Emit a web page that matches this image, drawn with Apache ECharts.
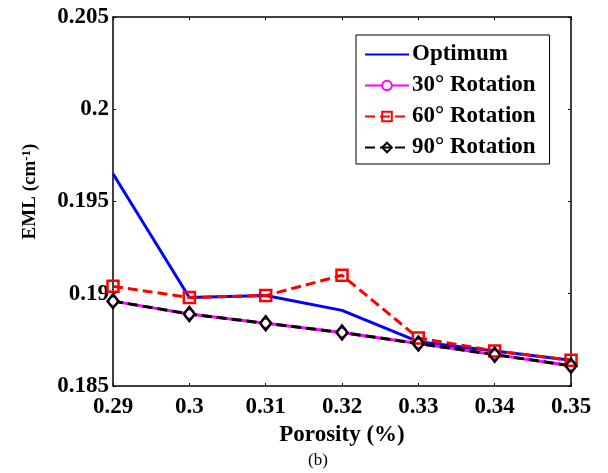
<!DOCTYPE html>
<html>
<head>
<meta charset="utf-8">
<script src="https://cdn.jsdelivr.net/npm/echarts@6/dist/echarts.min.js"></script>
<style>
  html, body { margin: 0; padding: 0; background: #fff; }
  #chart { width: 608px; height: 473px; }
</style>
</head>
<body>
<div id="chart"></div>
<script>
// Porosity values on the x axis
const porosity = [0.29, 0.30, 0.31, 0.32, 0.33, 0.34, 0.35];

// EML (cm^-1) for each configuration
const optimum    = [0.1965, 0.1898, 0.1899, 0.1891, 0.1874, 0.1869, 0.1864];
const rotation30 = [0.1896, 0.1889, 0.1884, 0.1879, 0.1873, 0.1867, 0.1861];
const rotation60 = [0.1904, 0.1898, 0.1899, 0.1910, 0.1876, 0.1869, 0.1864];
const rotation90 = [0.1896, 0.1889, 0.1884, 0.1879, 0.1873, 0.1867, 0.1861];

const seriesNames = ['Optimum', '30° Rotation', '60° Rotation', '90° Rotation'];

const pairs = vals => porosity.map((x, i) => [x, vals[i]]);

const FONT = '"Liberation Serif", "Times New Roman", serif';

const chart = echarts.init(document.getElementById('chart'), null, { renderer: 'canvas' });

const tickStyle = { show: true, inside: true, length: 3, lineStyle: { color: '#000', width: 1 } };
const lineAxis = { show: true, lineStyle: { color: '#000', width: 1.5 } };

chart.setOption({
  backgroundColor: '#fff',
  animation: false,
  grid: { left: 113, right: 37, top: 17, bottom: 87, containLabel: false },
  xAxis: [
    {
      type: 'value', min: 0.29, max: 0.35, interval: 0.01,
      name: 'Porosity (%)', nameLocation: 'middle', nameGap: 36,
      nameTextStyle: { fontFamily: FONT, fontWeight: 'bold', fontSize: 23, color: '#000' },
      axisLine: lineAxis, axisTick: tickStyle, splitLine: { show: false },
      axisLabel: { fontFamily: FONT, fontWeight: 'bold', fontSize: 23, color: '#000', margin: 10 }
    },
    {
      type: 'value', position: 'top', min: 0.29, max: 0.35, interval: 0.01,
      axisLine: lineAxis, axisTick: tickStyle, axisLabel: { show: false }, splitLine: { show: false }
    }
  ],
  yAxis: [
    {
      type: 'value', min: 0.185, max: 0.205, interval: 0.005,
      name: 'EML (cm{sup|-1})', nameLocation: 'middle', nameGap: 72, nameRotate: 90,
      nameTextStyle: {
        fontFamily: FONT, fontWeight: 'bold', fontSize: 19, color: '#000',
        padding: [0, 0, 0, 20],
        rich: { sup: { fontFamily: FONT, fontWeight: 'bold', fontSize: 13, color: '#000', verticalAlign: 'top', padding: [0, 0, 8, 0] } }
      },
      axisLine: lineAxis, axisTick: tickStyle, splitLine: { show: false },
      axisLabel: { fontFamily: FONT, fontWeight: 'bold', fontSize: 23, color: '#000', margin: 4 }
    },
    {
      type: 'value', position: 'right', min: 0.185, max: 0.205, interval: 0.005,
      axisLine: lineAxis, axisTick: tickStyle, axisLabel: { show: false }, splitLine: { show: false }
    }
  ],
  legend: {
    data: [
      { name: seriesNames[0], itemStyle: { opacity: 0 } },
      seriesNames[1], seriesNames[2], seriesNames[3]
    ],
    orient: 'vertical',
    left: 356, top: 35,
    padding: [8, 14, 5, 8],
    itemWidth: 44, itemHeight: 12, itemGap: 8,
    borderColor: '#000', borderWidth: 1, borderRadius: 0,
    backgroundColor: '#fff',
    textStyle: { fontFamily: FONT, fontWeight: 'bold', fontSize: 23, color: '#000', lineHeight: 23, padding: [0, 0, 0, -2] }
  },
  graphic: [
    {
      type: 'text', left: 308, top: 452,
      style: { text: '(b)', fontFamily: FONT, fontSize: 17, fill: '#000' }
    }
  ],
  series: [
    {
      name: seriesNames[0], type: 'line', data: pairs(optimum),
      showSymbol: false, symbol: 'none',
      lineStyle: { color: '#0000ff', width: 3 },
      itemStyle: { color: '#0000ff' }
    },
    {
      name: seriesNames[1], type: 'line', data: pairs(rotation30),
      symbol: 'circle', symbolSize: 9,
      lineStyle: { color: '#ff00ff', width: 3 },
      itemStyle: { color: '#fff', borderColor: '#ff00ff', borderWidth: 2 }
    },
    {
      name: seriesNames[2], type: 'line', data: pairs(rotation60),
      symbol: 'rect', symbolSize: 11,
      lineStyle: { color: '#ff0000', width: 3, type: [10, 5] },
      itemStyle: { color: 'rgba(255,255,255,0)', borderColor: '#ff0000', borderWidth: 2.5 }
    },
    {
      name: seriesNames[3], type: 'line', data: pairs(rotation90),
      symbol: 'diamond', symbolSize: [11, 14],
      lineStyle: { color: '#000000', width: 3, type: [10, 5] },
      itemStyle: { color: 'rgba(255,255,255,0)', borderColor: '#000000', borderWidth: 2.5 }
    }
  ]
});
</script>
</body>
</html>
